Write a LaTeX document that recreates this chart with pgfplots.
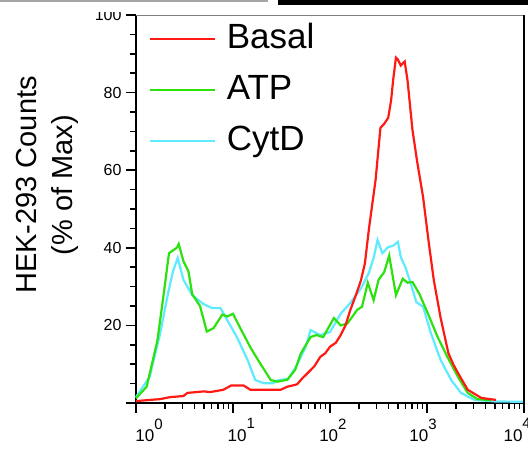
\documentclass[border=0pt]{standalone}
\usepackage{fontspec}
\setmainfont{Liberation Sans}
\usepackage{pgfplots}
\pgfplotsset{compat=1.18}

\definecolor{basal}{RGB}{255,25,20}
\definecolor{atp}{RGB}{45,225,15}
\definecolor{cytd}{RGB}{95,235,255}

% decade label 10^n with a large raised exponent
\newcommand{\xl}[1]{10\raisebox{0.72em}{\fontsize{15}{15}\selectfont #1}}

\begin{document}
\begin{tikzpicture}
\useasboundingbox (-136pt,-49pt) rectangle (392pt,403pt);
\begin{axis}[
  scale only axis, width=388pt, height=388pt,
  at={(0,0)}, anchor=south west,
  xmin=0, xmax=4, ymin=0, ymax=100,
  axis x line*=bottom, axis y line*=left,
  axis line style={line width=1.6pt},
  tick align=outside,
  xtick={0,1,2,3,4}, xticklabels={},
  minor xtick={0.301,0.477,0.602,0.699,0.778,0.845,0.903,0.954,
               1.301,1.477,1.602,1.699,1.778,1.845,1.903,1.954,
               2.301,2.477,2.602,2.699,2.778,2.845,2.903,2.954,
               3.301,3.477,3.602,3.699,3.778,3.845,3.903,3.954},
  extra x ticks={0.134,1.086,2.03,2.96,3.93},
  extra x tick labels={\xl{0},\xl{1},\xl{2},\xl{3},\xl{4}},
  extra x tick style={major tick length=0pt},
  xticklabel style={font=\fontsize{17}{17}\selectfont, yshift=-12pt},
  ytick={0,20,40,60,80,100}, yticklabels={,20,40,60,80,100},
  minor y tick num=3,
  yticklabel style={font=\fontsize{16}{16}\selectfont, xshift=-1pt},
  major tick length=10pt, minor tick length=6pt,
  every tick/.style={black, line width=1.5pt},
  ylabel={HEK-293 Counts\\(\% of Max)},
  ylabel style={at={(rel axis cs:-0.229,0.562)}, anchor=center, align=center,
    font=\fontsize{29}{36}\selectfont},
  legend cell align=left,
  legend image code/.code={\draw[#1] (0pt,0pt) -- (65pt,0pt); \path (74pt,0pt);},
  legend style={draw=none, fill=none, at={(rel axis cs:0.031,0.985)}, anchor=north west,
    font=\fontsize{35}{40}\selectfont, inner sep=0pt, row sep=15pt,
    nodes={inner sep=2pt, text height=25pt, text depth=7pt}},
  clip=false,
]
\addlegendimage{basal, line width=2.6pt}\addlegendentry{Basal}
\addlegendimage{atp, line width=2.6pt}\addlegendentry{ATP}
\addlegendimage{cytd, line width=2.6pt}\addlegendentry{CytD}

% CytD
\addplot[cytd, line width=2.2pt, forget plot] coordinates {
(0,1.5)(0.14,6.7)(0.25,18)(0.32,27)(0.38,33.8)(0.43,37.4)(0.49,31.7)(0.58,27.8)
(0.69,25.6)(0.78,24.5)(0.87,24.5)(0.94,21.4)(1.04,17)(1.15,11.1)(1.23,5.9)
(1.32,5.1)(1.41,5.1)(1.47,5.9)(1.57,6.2)(1.66,9.8)(1.75,14.5)(1.80,18.8)
(1.9,17.5)(2.0,18.3)(2.11,23)(2.21,25.8)(2.32,29.6)(2.40,33.5)(2.45,37.4)
(2.49,42)(2.54,38.6)(2.6,40.2)(2.65,40.5)(2.70,41.5)(2.73,37.6)(2.78,34.8)
(2.83,31)(2.89,26)(2.96,24.8)(3.04,18)(3.14,11.1)(3.25,5.9)(3.35,2.6)
(3.49,0.8)(3.7,0.4)(4.0,0.3)
};
% ATP
\addplot[atp, line width=2.2pt, forget plot] coordinates {
(0,1.2)(0.11,4.2)(0.22,16)(0.28,27)(0.34,38.6)(0.42,40)(0.44,41)(0.49,36.5)
(0.54,34)(0.58,28)(0.66,25)(0.73,18.4)(0.80,19.3)(0.89,22.8)(0.94,22.3)
(1.0,23)(1.05,20.5)(1.18,14.3)(1.28,10.2)(1.39,5.9)(1.46,5.5)(1.56,6)
(1.64,8.5)(1.7,12.8)(1.8,17)(1.86,17.5)(1.93,17)(2.04,21.9)(2.11,20)
(2.18,20.5)(2.28,24)(2.33,24.8)(2.39,31)(2.45,26.5)(2.50,31.7)(2.56,33.8)
(2.61,38)(2.68,27.8)(2.75,32)(2.8,31)(2.85,31.2)(2.92,28.2)(3.01,23)
(3.11,17)(3.21,11.9)(3.32,6.7)(3.42,2.6)(3.52,1)(3.66,0.7)
};
% Basal
\addplot[basal, line width=2.2pt, forget plot] coordinates {
(0,0.5)(0.25,1)(0.35,1.5)(0.49,1.8)(0.53,2.6)(0.7,3)(0.76,2.8)(0.9,3.4)
(0.98,4.5)(1.11,4.5)(1.18,3.4)(1.49,3.4)(1.56,4.2)(1.66,4.8)(1.72,6.5)
(1.77,7.7)(1.84,9.5)(1.90,11.9)(1.95,12.8)(2.0,14.5)(2.06,15.5)(2.11,17.5)
(2.16,20)(2.21,24)(2.27,28)(2.32,31.7)(2.36,36)(2.40,44.6)(2.44,52)
(2.47,57.5)(2.52,70.9)(2.56,72)(2.6,73.5)(2.63,78)(2.65,83)(2.68,89)
(2.70,88.5)(2.73,87)(2.77,88)(2.8,83)(2.85,70.4)(2.9,62)(2.96,53)(3.02,41)
(3.07,31.7)(3.14,22)(3.22,12.9)(3.27,10)(3.32,7.7)(3.42,3.4)(3.56,1.3)(3.71,0.8)
};
\draw[gray, line width=0.8pt] (rel axis cs:0,1) -- (rel axis cs:1,1);
\draw[black, line width=1.4pt] (rel axis cs:1,0) -- (rel axis cs:1,1);
\end{axis}
% cropped edges of neighbouring panels
\fill[white] (-136pt,390.5pt) rectangle (-3pt,403pt);
\fill[gray!70] (-136pt,400.5pt) rectangle (132pt,402.5pt);
\fill[black] (142pt,398pt) rectangle (392pt,403pt);
\end{tikzpicture}
\end{document}
